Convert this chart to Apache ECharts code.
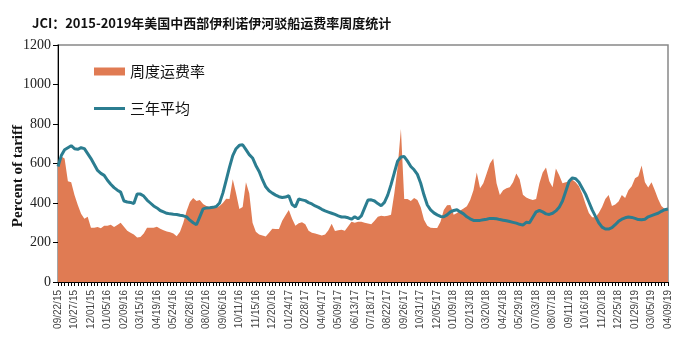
<!DOCTYPE html>
<html>
<head>
<meta charset="utf-8">
<script src="https://cdn.jsdelivr.net/npm/echarts@6/dist/echarts.min.js"></script>
<style>
  html,body{margin:0;padding:0;background:#fff;}
  .main{width:679px;height:352px;}
</style>
</head>
<body>
<div class="main" id="main"></div>
<script>
// weekly dates, MM/DD/YY
var weeks = [
  '09/22/15','09/29/15','10/06/15','10/13/15','10/20/15','10/27/15','11/03/15','11/10/15','11/17/15','11/24/15','12/01/15','12/08/15','12/15/15','12/22/15','12/29/15',
  '01/05/16','01/12/16','01/19/16','01/26/16','02/02/16','02/09/16','02/16/16','02/23/16','03/01/16','03/08/16','03/15/16','03/22/16','03/29/16','04/05/16','04/12/16',
  '04/19/16','04/26/16','05/03/16','05/10/16','05/17/16','05/24/16','05/31/16','06/07/16','06/14/16','06/21/16','06/28/16','07/05/16','07/12/16','07/19/16','07/26/16',
  '08/02/16','08/09/16','08/16/16','08/23/16','08/30/16','09/06/16','09/13/16','09/20/16','09/27/16','10/04/16','10/11/16','10/18/16','10/25/16','11/01/16','11/08/16',
  '11/15/16','11/22/16','11/29/16','12/06/16','12/13/16','12/20/16','12/27/16',
  '01/03/17','01/10/17','01/17/17','01/24/17','01/31/17','02/07/17','02/14/17','02/21/17','02/28/17','03/07/17','03/14/17','03/21/17','03/28/17','04/04/17',
  '04/11/17','04/18/17','04/25/17','05/02/17','05/09/17','05/16/17','05/23/17','05/30/17','06/06/17','06/13/17','06/20/17','06/27/17','07/04/17','07/11/17','07/18/17',
  '07/25/17','08/01/17','08/08/17','08/15/17','08/22/17','08/29/17','09/05/17','09/12/17','09/19/17','09/26/17','10/03/17','10/10/17','10/17/17','10/24/17','10/31/17',
  '11/07/17','11/14/17','11/21/17','11/28/17','12/05/17','12/12/17','12/19/17','12/26/17',
  '01/02/18','01/09/18','01/16/18','01/23/18','01/30/18','02/06/18','02/13/18','02/20/18','02/27/18','03/06/18','03/13/18','03/20/18','03/27/18','04/03/18','04/10/18',
  '04/17/18','04/24/18','05/01/18','05/08/18','05/15/18','05/22/18','05/29/18','06/05/18','06/12/18','06/19/18','06/26/18','07/03/18','07/10/18','07/17/18','07/24/18',
  '07/31/18','08/07/18','08/14/18','08/21/18','08/28/18','09/04/18','09/11/18','09/18/18','09/25/18','10/02/18','10/09/18','10/16/18','10/23/18','10/30/18','11/06/18',
  '11/13/18','11/20/18','11/27/18','12/04/18','12/11/18','12/18/18','12/25/18',
  '01/01/19','01/08/19','01/15/19','01/22/19','01/29/19','02/05/19','02/12/19','02/19/19','02/26/19','03/05/19','03/12/19','03/19/19','03/26/19','04/02/19','04/09/19'
];

// 周度运费率 (percent of tariff)
var weeklyRate = [
  605,635,625,510,505,440,390,345,320,330,
  275,275,278,272,285,285,290,278,288,300,
  280,260,250,240,225,228,245,275,275,275,
  280,270,262,256,252,245,232,255,300,360,
  405,425,410,415,395,385,380,378,376,385,
  400,422,420,520,450,370,380,505,450,300,
  255,240,235,230,250,270,268,268,310,338,
  365,320,285,298,302,292,260,250,245,240,
  235,240,262,295,258,262,265,260,282,305,
  300,305,305,300,296,292,310,330,336,333,
  335,341,450,580,775,420,420,410,425,415,
  378,315,285,275,273,273,305,365,388,390,
  341,350,362,372,383,415,465,555,475,500,
  550,600,625,500,440,465,475,480,505,550,
  520,442,428,420,415,420,500,555,580,510,
  480,575,540,500,505,510,518,505,485,445,
  395,350,328,328,350,380,420,440,385,392,
  408,440,425,465,485,525,535,590,505,478,
  505,465,420,385,370,365
];

// 三年平均
var threeYearAvg = [
  585,640,670,680,690,675,672,680,675,650,
  625,595,565,550,540,515,495,478,465,455,
  410,405,403,397,445,445,435,415,400,385,
  375,362,355,348,345,343,342,338,335,330,
  313,300,290,330,370,375,376,378,382,400,
  450,515,580,640,675,692,695,670,645,628,
  590,560,518,482,462,450,440,432,428,430,
  437,392,380,420,416,412,402,395,385,378,
  368,360,354,348,342,335,329,329,325,318,
  330,320,335,375,415,416,410,397,386,403,
  440,493,553,612,633,635,612,585,568,545,
  500,440,390,365,350,340,332,330,340,355,
  362,366,355,345,330,320,312,312,312,315,
  318,322,322,320,316,313,310,306,302,298,
  292,288,302,300,328,355,362,355,345,342,
  348,360,378,410,460,510,527,523,505,475,
  445,405,365,332,300,278,268,268,275,290,
  307,318,325,329,327,322,316,315,318,330,
  336,342,348,358,366,370
];

var chart = echarts.init(document.getElementById('main'));
var option = {
  animation: false,
  title: {
    text: 'JCI：2015-2019年美国中西部伊利诺伊河驳船运费率周度统计',
    left: 27,
    top: 12,
    textStyle: {
      fontFamily: 'Noto Sans CJK SC',
      fontWeight: 'bold',
      fontSize: 13,
      color: '#111'
    }
  },
  legend: {
    orient: 'vertical',
    left: 89,
    top: 59,
    itemWidth: 31,
    itemHeight: 8,
    itemGap: 22,
    symbolKeepAspect: true,
    textStyle: {fontFamily: 'Noto Sans CJK SC', fontSize: 15, color: '#111'},
    data: [
      {name: '周度运费率', icon: 'rect'},
      {name: '三年平均', icon: 'path://M0,0L31,0L31,3L0,3Z'}
    ]
  },
  grid: {
    left: 58, right: 11, top: 45, bottom: 70,
    show: true,
    borderColor: '#888',
    borderWidth: 1.5
  },
  xAxis: {
    type: 'category',
    data: weeks,
    boundaryGap: false,
    axisLine: {lineStyle: {color: '#000', width: 1}},
    axisTick: {show: true, interval: 0, length: 4, lineStyle: {color: '#000'}},
    axisLabel: {
      interval: 4,
      rotate: 90,
      margin: 8,
      fontFamily: 'Liberation Sans',
      fontSize: 10,
      color: '#444'
    }
  },
  yAxis: {
    type: 'value',
    min: 0,
    max: 1200,
    interval: 200,
    splitLine: {show: false},
    axisLine: {show: true, lineStyle: {color: '#000', width: 1}},
    axisTick: {show: true, length: 5, lineStyle: {color: '#000'}},
    axisLabel: {
      margin: 7,
      formatter: function (v) { return String(v); },
      fontFamily: 'Liberation Serif',
      fontSize: 14,
      color: '#222'
    }
  },
  graphic: [{
    type: 'text',
    left: 11,
    top: 125,
    rotation: Math.PI / 2,
    style: {
      text: 'Percent of tariff',
      font: 'bold 15px "Liberation Serif"',
      fill: '#111'
    }
  }],
  series: [
    {
      name: '周度运费率',
      type: 'line',
      data: weeklyRate,
      symbol: 'none',
      color: '#E07B53',
      lineStyle: {width: 0},
      areaStyle: {color: '#E07B53', opacity: 1},
      z: 2
    },
    {
      name: '三年平均',
      type: 'line',
      data: threeYearAvg,
      symbol: 'none',
      color: '#2B7D90',
      lineStyle: {width: 3, color: '#2B7D90'},
      z: 3
    }
  ]
};
chart.setOption(option);
</script>
</body>
</html>
